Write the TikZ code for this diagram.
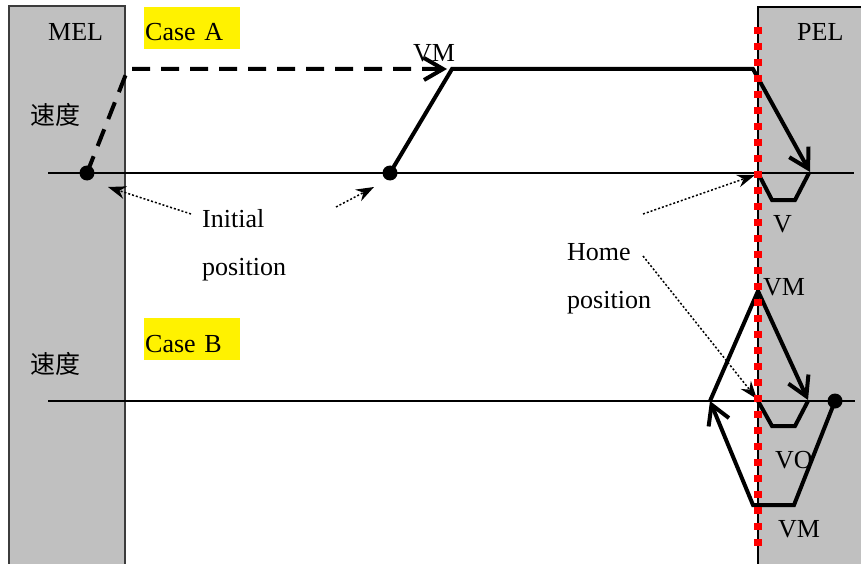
\documentclass[tikz,border=0pt]{standalone}
\usepackage{fontspec}
\setmainfont{Liberation Serif}
\newfontfamily\cjk{Noto Sans CJK SC}
\usetikzlibrary{arrows.meta}
\definecolor{panelgray}{RGB}{192,192,192}
\definecolor{paneledge}{RGB}{60,60,60}
\begin{document}
\begin{tikzpicture}[x=1pt,y=-1pt,
  lbl/.style={inner sep=0pt, anchor=base west, font=\fontsize{26pt}{30pt}\selectfont},
  cjklbl/.style={inner sep=0pt, font=\cjk\fontsize{25pt}{30pt}\selectfont},
  casebox/.style={fill=yellow, anchor=base west, inner xsep=1pt, inner ysep=0pt,
    text height=34pt, text depth=8pt, text width=94pt, align=left,
    font=\fontsize{26pt}{30pt}\selectfont},
  dotnode/.style={circle, fill=black, inner sep=0pt, minimum size=15pt},
  motion/.style={line width=4pt},
  dashedmotion/.style={line width=4pt, dash pattern=on 18pt off 11pt},
  barb/.style={-{Straight Barb[length=19pt,width=22pt]}},
  axisline/.style={line width=2.3pt},
  pointer/.style={line width=1.5pt, dash pattern=on 2pt off 2pt,
    -{Stealth[length=18pt,width=13pt,inset=6pt]}},
  reddots/.style={red, line width=7.5pt, dash pattern=on 7pt off 9pt},
  panel/.style={fill=panelgray, line width=2pt}]
\useasboundingbox (0,0) rectangle (861,564);
\clip (0,0) rectangle (861,564);
% panels
\draw[panel, draw=paneledge] (9,6) rectangle (125,580);
\draw[panel, draw=black] (758,7) rectangle (880,580);
\node[lbl] (mel) at (48,41) {MEL};
\node[lbl] (pel) at (797,41) {PEL};
\node[cjklbl] (spdA) at (55,115) {速度};
\node[cjklbl] (spdB) at (55,364) {速度};
\node[casebox] (caseA) at (144,41) {Case A};
\node[casebox] (caseB) at (144,352) {Case B};
% axes
\coordinate (axAl) at (48,173);
\coordinate (axAr) at (854,173);
\coordinate (axBl) at (48,401);
\coordinate (axBr) at (855,401);
\draw[axisline] (axAl) -- (axAr);
\draw[axisline] (axBl) -- (axBr);
% case A
\node[dotnode] (dotA1) at (87,173) {};
\node[dotnode] (dotA2) at (390,173) {};
\coordinate (cA1) at (128,69);
\coordinate (vmtip) at (447,69);
\coordinate (cA2) at (452,69);
\coordinate (cA3) at (753,69);
\coordinate (cA4) at (810,172);
\draw[dashedmotion, barb] (dotA1.center) -- (cA1) -- (vmtip);
\draw[motion, barb] (dotA2.center) -- (cA2) -- (cA3) -- (cA4);
\coordinate (tA0) at (758,173);
\coordinate (tA1) at (772,200);
\coordinate (tA2) at (795,200);
\coordinate (tA3) at (809,173);
\draw[motion] (tA0) -- (tA1) -- (tA2) -- (tA3);
\node[lbl] (vmA) at (413,62) {VM};
\node[lbl] (vA) at (773,232) {V};
% case B
\node[dotnode] (dotB) at (835,401) {};
\coordinate (bL) at (710,401);
\coordinate (bTop) at (758,291);
\coordinate (bR) at (808,400);
\coordinate (bB1) at (794,505);
\coordinate (bB2) at (753,505);
\draw[motion, barb] (dotB.center) -- (bB1) -- (bB2) -- (bL);
\draw[motion, barb] (bL) -- (bTop) -- (bR);
\coordinate (tB0) at (758,401);
\coordinate (tB1) at (772,426);
\coordinate (tB2) at (795,426);
\coordinate (tB3) at (808,401);
\draw[motion] (tB0) -- (tB1) -- (tB2) -- (tB3);
\node[lbl] (vmB1) at (763,295) {VM};
\node[lbl] (voB) at (775,468) {VO};
\node[lbl] (vmB2) at (778,537) {VM};
% labels with pointers
\node[lbl] (init1) at (202,227) {Initial};
\node[lbl] (init2) at (202,275) {position};
\node[lbl] (home1) at (567,260) {Home};
\node[lbl] (home2) at (567,308) {position};
\coordinate (pI1s) at (191,214);
\coordinate (pI1e) at (108,187);
\coordinate (pI2s) at (336,207);
\coordinate (pI2e) at (374,187);
\coordinate (pH1s) at (643,214);
\coordinate (pH1e) at (755,175);
\coordinate (pH2s) at (643,256);
\coordinate (pH2e) at (757,399);
\draw[pointer] (pI1s) -- (pI1e);
\draw[pointer] (pI2s) -- (pI2e);
\draw[pointer] (pH1s) -- (pH1e);
\draw[pointer] (pH2s) -- (pH2e);
% red home line
\coordinate (redTop) at (758,27);
\coordinate (redBot) at (758,548);
\draw[reddots] (redTop) -- (redBot);
\end{tikzpicture}
\end{document}
